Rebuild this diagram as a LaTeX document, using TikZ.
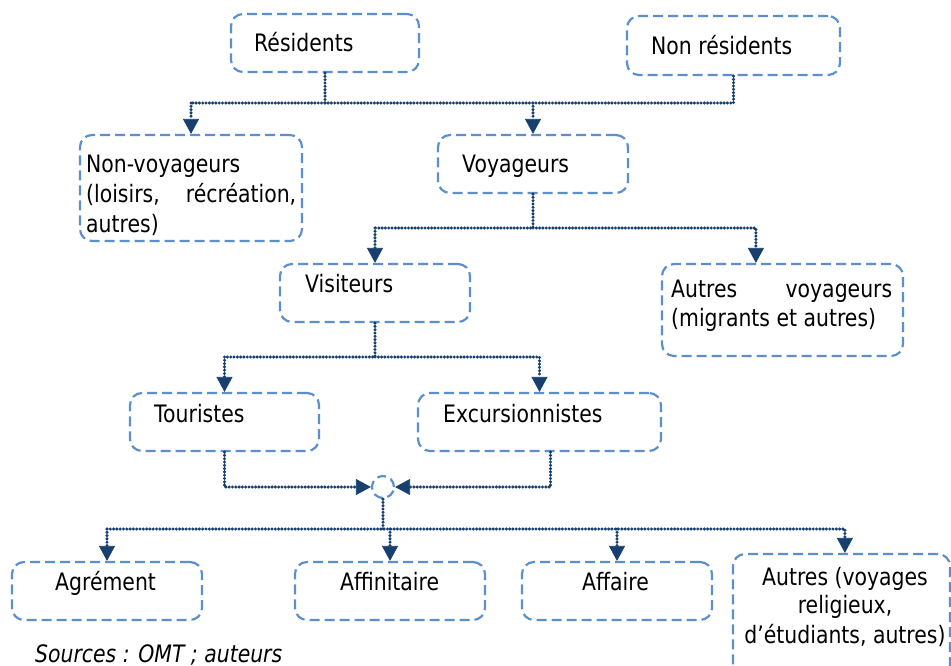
\documentclass[tikz,border=0pt]{standalone}
\usepackage{fontspec}
\setmainfont{DejaVu Sans}[FakeStretch=0.85]
\usetikzlibrary{arrows.meta,calc}
\definecolor{boxblue}{HTML}{5B8FCE}
\definecolor{navy}{HTML}{17406F}
\tikzset{
  box/.style={draw=boxblue, line width=2.2pt, dash pattern=on 10pt off 5pt, rounded corners=12pt, inner sep=0pt, rectangle},
  txt/.style={inner sep=0pt, font=\fontsize{24}{29.5}\selectfont, text=black},
  conn/.style={draw=navy, line width=3.4pt, dash pattern=on 0pt off 3.3pt, line cap=round},
  arr/.style={-{Triangle[length=15pt,width=16pt,line width=0.8pt]}},
}
\begin{document}
\begin{tikzpicture}[x=1pt,y=-1pt]
\clip (0,0) rectangle (951,666);
\fill[white] (0,0) rectangle (951,666);

% boxes
\node[box, minimum width=188pt, minimum height=58pt] (res) at (325,43) {};
\node[box, minimum width=213pt, minimum height=59pt] (nonres) at (733.5,45.5) {};
\node[box, minimum width=222pt, minimum height=106pt] (nonvoy) at (191,188) {};
\node[box, minimum width=190pt, minimum height=58pt] (voy) at (533,164) {};
\node[box, minimum width=190pt, minimum height=58pt] (vis) at (375,293) {};
\node[box, minimum width=241pt, minimum height=92pt] (autvoy) at (782.5,310) {};
\node[box, minimum width=189pt, minimum height=58pt] (tour) at (224.5,422) {};
\node[box, minimum width=243pt, minimum height=58pt] (exc) at (539.5,422) {};
\node[box, minimum width=190pt, minimum height=58pt] (agr) at (107,591) {};
\node[box, minimum width=190pt, minimum height=58pt] (affi) at (390,591) {};
\node[box, minimum width=190pt, minimum height=58pt] (affa) at (617,591) {};
\node[box, minimum width=217pt, minimum height=146pt] (autres) at (841.5,627) {};
\node[draw=boxblue, line width=2.2pt, dash pattern=on 9pt off 5pt, circle, inner sep=0pt, minimum size=22pt] (hub) at (383,487) {};

% texts
\node[txt, anchor=base west] (tres) at (254,52) {Résidents};
\node[txt, anchor=base west] (tnonres) at (651,55) {Non résidents};
\node[txt, anchor=base west] (tnv1) at (86,173) {Non-voyageurs};
\node[txt, anchor=base west] (tnv2) at (86,203) {\hbox to 210pt{(loisirs,\hfill récréation,}};
\node[txt, anchor=base west] (tnv3) at (86,232) {autres)};
\node[txt, anchor=base west] (tvoy) at (462,173) {Voyageurs};
\node[txt, anchor=base west] (tvis) at (305,292) {Visiteurs};
\node[txt, anchor=base west] (tav1) at (671,297) {\hbox to 221pt{Autres\hfill voyageurs}};
\node[txt, anchor=base west] (tav2) at (671,326) {(migrants et autres)};
\node[txt, anchor=base west] (ttour) at (154,422) {Touristes};
\node[txt, anchor=base west] (texc) at (443,422) {Excursionnistes};
\node[txt, anchor=base west] (tagr) at (55,590) {Agrément};
\node[txt, anchor=base west] (taffi) at (340,590) {Affinitaire};
\node[txt, anchor=base west] (taffa) at (582,590) {Affaire};
\node[txt, anchor=base] (tau1) at (845,585) {Autres (voyages};
\node[txt, anchor=base] (tau2) at (845,613) {religieux,};
\node[txt, anchor=base] (tau3) at (845,643) {d’étudiants, autres)};
\node[txt, anchor=base west, font=\fontsize{24}{29}\selectfont\itshape] (src) at (35,662) {Sources : OMT ; auteurs};

% connectors level 1
\coordinate (r1) at (191,103);
\draw[conn] (res.south) -- (res.south |- r1);
\draw[conn] (nonres.south) |- (r1);
\draw[conn, arr] (r1) -- (nonvoy.north);
\draw[conn, arr] (voy.north |- r1) -- (voy.north);

% level 2
\coordinate (r2) at (375,228);
\coordinate (avin) at ($(autvoy.north west)+(95,0)$);
\draw[conn] (voy.south) |- (r2);
\draw[conn, arr] (r2) -- (vis.north);
\draw[conn, arr] (voy.south |- r2) -| (avin);

% level 3
\coordinate (r3) at (224.5,357);
\draw[conn] (vis.south) |- (r3);
\draw[conn, arr] (r3) -- (tour.north);
\draw[conn, arr] (vis.south |- r3) -| (exc.north);

% level 4
\coordinate (excout) at ($(exc.south)+(11,0)$);
\draw[conn, arr] (tour.south) |- (hub.west);
\draw[conn, arr] (excout) |- (hub.east);

% level 5
\coordinate (r4) at (107,529);
\coordinate (autin) at ($(autres.north west)+(113,0)$);
\draw[conn] (hub.south) -- (hub.south |- r4);
\draw[conn, arr] (r4) -- (agr.north);
\draw[conn, arr] (r4) -| (autin);
\draw[conn, arr] (affi.north |- r4) -- (affi.north);
\draw[conn, arr] (affa.north |- r4) -- (affa.north);
\end{tikzpicture}
\end{document}
